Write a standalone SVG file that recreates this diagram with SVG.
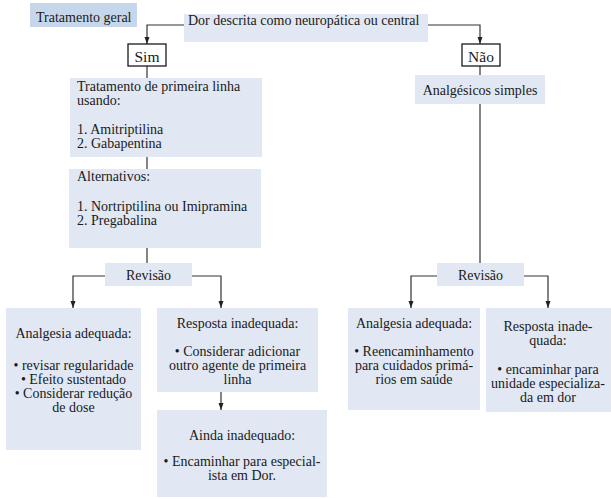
<svg xmlns="http://www.w3.org/2000/svg" width="611" height="499" viewBox="0 0 611 499">
<style>
text{font-family:"Liberation Serif","DejaVu Serif",serif;font-size:14px;fill:#1a1a1a}
.c{text-anchor:middle}
.box{fill:#e1e8f3}
.dark{fill:#c6d7ec}
.yn{fill:#ffffff;stroke:#1a1a1a;stroke-width:1.3}
.yt{font-size:15.5px}
.ln{fill:none;stroke:#333;stroke-width:1.2}
</style>
<defs>
<marker id="ah" markerUnits="userSpaceOnUse" markerWidth="8" markerHeight="6" refX="7" refY="2.5" orient="auto">
<path d="M0,0 L7,2.5 L0,5 z" fill="#222"/>
</marker>
</defs>
<rect width="611" height="499" fill="#ffffff"/>
<g id="connectors">
<path class="ln" d="M184,25 H147 V44" marker-end="url(#ah)"/>
<path class="ln" d="M428,25 H480 V44" marker-end="url(#ah)"/>
<path class="ln" d="M147,66 V78"/>
<path class="ln" d="M147,157 V169"/>
<path class="ln" d="M147,248 V263"/>
<path class="ln" d="M105,276 H73 V308" marker-end="url(#ah)"/>
<path class="ln" d="M192,276 H221 V308" marker-end="url(#ah)"/>
<path class="ln" d="M221,392 V410" marker-end="url(#ah)"/>
<path class="ln" d="M480,66 V75"/>
<path class="ln" d="M480,104 V263"/>
<path class="ln" d="M437,276 H411 V308" marker-end="url(#ah)"/>
<path class="ln" d="M524,276 H548 V308" marker-end="url(#ah)"/>
</g>
<g id="tratamento-geral">
<rect class="dark" x="30" y="3" width="107" height="24"/>
<text x="36" y="22">Tratamento geral</text>
</g>
<g id="dor">
<rect class="box" x="184" y="14" width="244" height="28"/>
<text x="188" y="25">Dor descrita como neuropática ou central</text>
</g>
<g id="sim">
<rect class="yn" x="128" y="44" width="38" height="22"/>
<text class="c yt" x="147" y="62">Sim</text>
</g>
<g id="nao">
<rect class="yn" x="462" y="44" width="38" height="22"/>
<text class="c yt" x="481" y="62">Não</text>
</g>
<g id="primeira-linha">
<rect class="box" x="70" y="78" width="192" height="79"/>
<text x="77" y="91">Tratamento de primeira linha</text>
<text x="77" y="105">usando:</text>
<text x="77" y="134">1. Amitriptilina</text>
<text x="77" y="148">2. Gabapentina</text>
</g>
<g id="alternativos">
<rect class="box" x="69" y="169" width="192" height="79"/>
<text x="77" y="181">Alternativos:</text>
<text x="77" y="211">1. Nortriptilina ou Imipramina</text>
<text x="77" y="225">2. Pregabalina</text>
</g>
<g id="analgesicos">
<rect class="box" x="415" y="75" width="130" height="29"/>
<text class="c" x="480" y="95">Analgésicos simples</text>
</g>
<g id="revisao-sim">
<rect class="box" x="105" y="263" width="87" height="23"/>
<text class="c" x="148.5" y="280">Revisão</text>
</g>
<g id="revisao-nao">
<rect class="box" x="437" y="263" width="87" height="23"/>
<text class="c" x="480.5" y="280">Revisão</text>
</g>
<g id="analgesia-sim">
<rect class="box" x="6" y="308" width="135" height="142"/>
<text class="c" x="73.5" y="338">Analgesia adequada:</text>
<text class="c" x="73.5" y="370">• revisar regularidade</text>
<text class="c" x="73.5" y="384">• Efeito sustentado</text>
<text class="c" x="73.5" y="398">• Considerar redução</text>
<text class="c" x="73.5" y="412">de dose</text>
</g>
<g id="resposta-sim">
<rect class="box" x="157" y="308" width="161" height="84"/>
<text class="c" x="237.5" y="328">Resposta inadequada:</text>
<text class="c" x="237.5" y="356">• Considerar adicionar</text>
<text class="c" x="237.5" y="370">outro agente de primeira</text>
<text class="c" x="237.5" y="384">linha</text>
</g>
<g id="ainda">
<rect class="box" x="157" y="410" width="170" height="87"/>
<text class="c" x="242" y="440">Ainda inadequado:</text>
<text class="c" x="242" y="466">• Encaminhar para especial-</text>
<text class="c" x="242" y="480">ista em Dor.</text>
</g>
<g id="analgesia-nao">
<rect class="box" x="348" y="308" width="132" height="102"/>
<text class="c" x="414" y="328">Analgesia adequada:</text>
<text class="c" x="414" y="356">• Reencaminhamento</text>
<text class="c" x="414" y="370">para cuidados primá-</text>
<text class="c" x="414" y="384">rios em saúde</text>
</g>
<g id="resposta-nao">
<rect class="box" x="486" y="308" width="125" height="104"/>
<text class="c" x="548" y="331">Resposta inade-</text>
<text class="c" x="548" y="345">quada:</text>
<text class="c" x="548" y="374">• encaminhar para</text>
<text class="c" x="548" y="388">unidade especializa-</text>
<text class="c" x="548" y="402">da em dor</text>
</g>
</svg>
